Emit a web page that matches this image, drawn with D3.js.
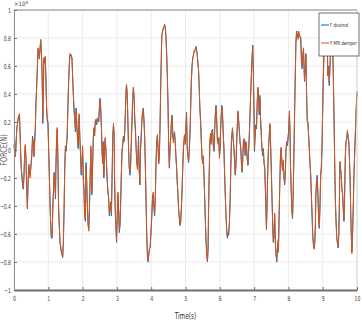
<!DOCTYPE html>
<html><head><meta charset="utf-8">
<script src="https://cdn.jsdelivr.net/npm/d3@7"></script>
<style>
body{margin:0;background:#fff}
svg{display:block}
text{font-family:"Liberation Sans Narrow","Arial Narrow","DejaVu Sans Condensed","Liberation Sans",sans-serif}
</style>
</head><body>
<svg id="chart" width="362" height="327"></svg>
<script>
// Force values are in units of 10^4 N
const time = [
0.00,0.02,0.04,0.06,0.08,0.12,0.16,0.17,0.19,0.21,0.25,0.27,0.29,0.31,0.33,0.35,0.37,0.39,0.41,0.43,0.47,0.49,0.52,0.54,0.56,0.58,0.62,0.64,0.66,0.68,0.70,0.72,0.74,0.76,0.78,0.80,0.82,0.84,0.86,0.87,0.89,0.91,0.93,0.95,0.97,0.99,1.01,1.03,1.05,1.07,1.09,1.11,1.13,1.15,1.17,1.19,1.21,1.22,1.24,1.26,1.28,1.30,1.34,1.38,1.42,1.44,1.46,1.48,1.50,1.52,1.54,1.55,1.57,1.59,1.61,1.63,
1.67,1.69,1.71,1.73,1.75,1.77,1.79,1.81,1.83,1.85,1.87,1.89,1.90,1.92,1.94,1.96,1.98,2.00,2.02,2.04,2.06,2.08,2.10,2.12,2.14,2.16,2.18,2.20,2.22,2.24,2.25,2.27,2.29,2.31,2.33,2.35,2.37,2.39,2.41,2.43,2.47,2.49,2.51,2.53,2.55,2.57,2.59,2.60,2.62,2.64,2.66,2.68,2.70,2.72,2.74,2.76,2.78,2.80,2.82,2.84,2.86,2.88,2.90,2.92,2.93,2.95,2.97,2.99,3.01,3.03,3.05,3.07,3.09,3.11,3.13,3.15,3.17,3.19,3.21,3.23,3.25,3.27,3.28,3.30,3.32,3.34,3.36,
3.38,3.40,3.42,3.44,3.46,3.48,3.50,3.52,3.54,3.56,3.58,3.60,3.62,3.63,3.65,3.67,3.69,3.71,3.73,3.75,3.77,3.79,3.81,3.83,3.85,3.87,3.89,3.91,3.93,3.95,3.97,3.98,4.00,4.02,4.04,4.06,4.08,4.10,4.12,4.14,4.16,4.18,4.20,4.22,4.24,4.26,4.28,4.30,4.31,4.33,4.35,4.37,4.39,4.41,4.43,4.45,4.47,4.49,4.51,4.53,4.55,4.57,4.59,4.61,4.63,4.65,4.66,4.68,4.70,4.72,4.74,4.76,4.78,4.80,4.82,4.84,4.86,4.88,4.90,4.92,4.94,4.96,4.97,4.99,5.01,5.03,
5.05,5.07,5.09,5.11,5.13,5.15,5.17,5.19,5.21,5.23,5.25,5.27,5.29,5.31,5.32,5.34,5.36,5.38,5.40,5.42,5.44,5.46,5.48,5.50,5.52,5.54,5.56,5.58,5.60,5.62,5.64,5.66,5.67,5.69,5.71,5.73,5.75,5.77,5.79,5.81,5.83,5.85,5.87,5.89,5.91,5.93,5.95,5.97,5.99,6.01,6.02,6.04,6.06,6.08,6.10,6.12,6.14,6.16,6.18,6.20,6.22,6.24,6.26,6.28,6.30,6.32,6.34,6.36,6.37,6.39,6.41,6.43,6.45,6.47,6.49,6.51,6.53,6.55,6.57,6.59,6.61,6.63,6.65,6.67,6.69,6.71,6.72,
6.74,6.76,6.78,6.80,6.82,6.84,6.86,6.88,6.90,6.92,6.94,6.96,6.98,7.00,7.01,7.03,7.05,7.07,7.09,7.11,7.13,7.15,7.17,7.19,7.21,7.23,7.25,7.27,7.29,7.31,7.33,7.35,7.36,7.38,7.40,7.42,7.44,7.46,7.48,7.50,7.52,7.54,7.56,7.58,7.60,7.62,7.64,7.66,7.68,7.70,7.71,7.73,7.75,7.77,7.79,7.81,7.83,7.85,7.87,7.89,7.91,7.93,7.95,7.97,7.99,8.01,8.03,8.05,8.06,8.08,8.10,8.12,8.14,8.16,8.18,8.20,8.22,8.24,8.26,8.28,8.30,8.32,
8.36,8.38,8.40,8.42,8.44,8.45,8.47,8.49,8.51,8.53,8.55,8.57,8.59,8.61,8.63,8.65,8.67,8.69,8.71,8.73,8.75,8.77,8.79,8.80,8.82,8.84,8.86,8.88,8.90,8.92,8.94,8.96,8.98,9.00,9.02,9.04,9.06,9.08,9.10,9.12,9.14,9.15,9.17,9.19,9.21,9.23,9.25,9.27,9.29,9.31,9.33,9.35,9.37,9.39,9.41,9.43,9.45,9.47,9.49,9.50,9.52,9.54,9.56,9.58,9.60,9.62,9.64,9.66,9.68,9.70,9.72,9.74,9.76,9.78,9.80,9.82,9.84,9.85,9.87,9.89,9.91,9.93,9.95,9.97,9.99,10.00
];
const forceDesired = [
0.01,0.07,-0.04,0.03,0.15,0.22,0.25,0.18,0.01,-0.13,-0.25,-0.28,-0.18,-0.04,0.03,-0.06,-0.28,-0.42,-0.23,-0.11,-0.18,-0.13,-0.04,0.10,0.06,-0.04,0.15,0.34,0.44,0.58,0.72,0.70,0.65,0.72,0.78,0.70,0.53,0.19,0.49,0.65,0.63,0.66,0.53,0.30,0.22,0.19,0.01,-0.18,-0.37,-0.54,-0.63,-0.63,-0.42,-0.30,-0.16,-0.25,-0.35,-0.13,0.06,0.15,-0.06,-0.42,-0.66,-0.73,-0.76,-0.66,-0.42,-0.13,0.03,-0.01,0.06,0.10,0.30,0.46,0.60,0.68,
0.68,0.65,0.53,0.39,0.30,0.22,0.13,0.30,0.18,0.10,0.01,0.18,0.25,0.10,-0.04,-0.18,-0.09,0.01,-0.18,-0.30,-0.47,-0.51,-0.09,-0.23,-0.42,-0.54,-0.56,-0.42,-0.18,0.01,-0.11,-0.32,-0.13,0.06,0.15,0.10,0.20,0.22,0.18,0.22,0.20,0.30,0.37,0.30,0.15,-0.04,-0.09,0.06,-0.20,0.01,0.08,-0.01,-0.11,-0.23,-0.30,-0.35,-0.47,-0.42,-0.37,-0.47,-0.18,0.10,0.18,0.10,-0.18,-0.42,-0.54,-0.66,-0.47,-0.32,-0.42,-0.59,-0.54,-0.37,-0.18,-0.01,0.03,0.10,0.06,0.13,0.30,0.44,0.46,0.41,0.20,0.01,-0.13,
-0.18,-0.11,0.06,0.20,0.37,0.44,0.39,0.22,0.15,0.01,-0.09,-0.13,-0.01,0.10,-0.13,-0.25,0.01,0.10,0.22,0.27,0.30,0.22,0.10,-0.11,-0.37,-0.61,-0.75,-0.80,-0.75,-0.70,-0.70,-0.66,-0.56,-0.47,-0.32,-0.32,-0.42,-0.47,-0.32,-0.09,0.06,0.10,0.01,-0.09,-0.04,0.20,0.49,0.72,0.82,0.84,0.87,0.88,0.89,0.88,0.82,0.70,0.53,0.34,0.01,-0.13,0.01,0.10,0.20,0.25,0.10,0.06,0.10,0.13,0.06,-0.04,-0.13,-0.23,-0.32,-0.42,-0.49,-0.54,-0.51,-0.42,-0.28,-0.13,0.01,0.08,0.10,0.06,0.15,0.27,
0.01,-0.04,-0.09,-0.01,0.10,0.30,0.49,0.60,0.65,0.68,0.70,0.71,0.72,0.74,0.72,0.68,0.63,0.58,0.44,0.30,0.22,0.06,-0.04,-0.09,-0.06,-0.18,-0.35,-0.51,-0.66,-0.75,-0.80,-0.70,-0.47,-0.18,0.06,0.10,0.06,0.13,0.15,0.03,-0.01,0.15,0.25,0.32,0.22,0.06,0.06,0.08,-0.04,0.01,0.13,0.25,0.32,0.25,0.13,0.01,-0.18,-0.32,-0.47,-0.56,-0.63,-0.59,-0.61,-0.51,-0.39,-0.13,0.06,0.13,0.15,0.08,0.01,-0.06,-0.18,-0.11,0.03,0.18,0.27,0.22,0.13,0.06,0.01,-0.09,-0.16,-0.06,0.06,0.08,0.06,
-0.04,0.06,0.01,-0.06,-0.11,-0.01,0.10,0.25,0.39,0.53,0.65,0.75,0.53,0.22,-0.01,0.10,0.18,0.15,0.34,0.44,0.37,0.25,0.39,0.22,0.10,0.01,-0.04,0.01,-0.09,-0.13,-0.28,-0.47,-0.56,-0.37,-0.13,0.01,0.10,0.18,0.06,-0.13,-0.32,-0.51,-0.66,-0.61,-0.47,-0.66,-0.75,-0.80,-0.70,-0.66,-0.73,-0.47,-0.23,-0.04,0.01,-0.09,-0.13,-0.09,-0.18,-0.25,-0.18,-0.01,0.06,0.03,0.08,0.15,0.27,0.10,-0.09,-0.28,-0.42,-0.49,-0.32,-0.04,0.25,0.53,0.77,0.85,0.82,0.80,0.84,0.82,
0.80,0.65,0.58,0.68,0.72,0.65,0.49,0.58,0.68,0.41,0.20,0.20,0.10,0.01,-0.09,-0.18,-0.32,-0.47,-0.61,-0.68,-0.70,-0.66,-0.51,-0.32,-0.23,-0.18,-0.32,-0.47,-0.56,-0.42,-0.18,-0.13,0.01,0.30,0.53,0.72,0.80,0.82,0.87,0.84,0.68,0.53,0.60,0.46,0.58,0.72,0.77,0.82,0.77,0.53,0.22,-0.09,-0.37,-0.51,-0.63,-0.66,-0.70,-0.61,-0.32,-0.09,-0.13,-0.18,-0.28,-0.32,-0.42,-0.51,-0.32,-0.04,0.06,0.08,0.13,0.10,0.06,-0.06,-0.23,-0.47,-0.66,-0.73,-0.61,-0.42,-0.18,-0.04,0.10,0.25,0.37,0.41
];
const forceMR = [
0.03,0.05,-0.05,0.05,0.14,0.23,0.26,0.16,0.02,-0.12,-0.24,-0.27,-0.2,-0.03,0.04,-0.08,-0.27,-0.41,-0.25,-0.1,-0.2,-0.12,-0.02,0.08,0.07,-0.05,0.13,0.33,0.45,0.57,0.73,0.69,0.66,0.74,0.79,0.68,0.52,0.22,0.47,0.66,0.62,0.67,0.5,0.31,0.21,0.2,0.0,-0.17,-0.38,-0.53,-0.62,-0.62,-0.44,-0.29,-0.17,-0.23,-0.33,-0.15,0.05,0.16,-0.05,-0.4,-0.65,-0.72,-0.77,-0.64,-0.43,-0.12,0.02,0.0,0.07,0.11,0.28,0.47,0.6,0.69,
0.67,0.66,0.51,0.4,0.28,0.23,0.15,0.28,0.2,0.08,0.03,0.17,0.26,0.08,-0.02,-0.16,-0.1,0.03,-0.2,-0.28,-0.45,-0.5,-0.12,-0.22,-0.4,-0.52,-0.58,-0.4,-0.2,0.03,-0.1,-0.3,-0.15,0.08,0.16,0.11,0.21,0.2,0.19,0.23,0.21,0.31,0.36,0.28,0.16,-0.02,-0.1,0.04,-0.18,0.03,0.09,0.0,-0.12,-0.22,-0.31,-0.34,-0.45,-0.43,-0.38,-0.45,-0.2,0.08,0.19,0.12,-0.16,-0.4,-0.55,-0.64,-0.48,-0.3,-0.43,-0.57,-0.53,-0.38,-0.16,0.0,0.05,0.09,0.07,0.14,0.28,0.43,0.47,0.4,0.22,0.02,-0.12,
-0.16,-0.12,0.05,0.21,0.36,0.45,0.38,0.23,0.13,0.02,-0.08,-0.14,0.0,0.08,-0.15,-0.24,0.02,0.12,0.21,0.28,0.29,0.2,0.08,-0.12,-0.36,-0.6,-0.76,-0.79,-0.74,-0.71,-0.69,-0.64,-0.55,-0.45,-0.34,-0.3,-0.4,-0.45,-0.35,-0.1,0.04,0.11,0.03,-0.1,-0.02,0.21,0.48,0.73,0.81,0.85,0.86,0.88,0.9,0.87,0.8,0.69,0.54,0.32,0.03,-0.12,0.03,0.08,0.21,0.24,0.12,0.05,0.11,0.12,0.07,-0.05,-0.12,-0.24,-0.31,-0.43,-0.48,-0.53,-0.52,-0.4,-0.29,-0.12,0.02,0.07,0.11,0.04,0.16,0.26,
0.03,-0.05,-0.08,0.01,0.11,0.29,0.5,0.59,0.66,0.67,0.71,0.7,0.73,0.73,0.71,0.69,0.62,0.57,0.45,0.28,0.2,0.08,-0.05,-0.1,-0.04,-0.2,-0.34,-0.52,-0.65,-0.76,-0.79,-0.68,-0.45,-0.2,0.05,0.12,0.04,0.14,0.13,0.05,0.0,0.13,0.26,0.31,0.2,0.08,0.04,0.09,-0.06,0.02,0.12,0.23,0.31,0.26,0.11,0.02,-0.16,-0.33,-0.46,-0.57,-0.62,-0.6,-0.59,-0.52,-0.37,-0.14,0.08,0.12,0.16,0.07,0.02,-0.08,-0.17,-0.12,0.05,0.17,0.28,0.2,0.14,0.05,0.03,-0.1,-0.15,-0.07,0.07,0.07,0.08,
-0.02,0.05,0.03,-0.07,-0.1,0.0,0.11,0.24,0.4,0.52,0.66,0.74,0.55,0.2,0.01,0.12,0.16,0.17,0.33,0.45,0.36,0.27,0.37,0.21,0.12,0.0,-0.02,0.0,-0.1,-0.12,-0.3,-0.46,-0.57,-0.35,-0.12,0.03,0.09,0.19,0.04,-0.12,-0.33,-0.5,-0.65,-0.62,-0.45,-0.67,-0.74,-0.79,-0.71,-0.64,-0.72,-0.45,-0.24,-0.02,0.02,-0.1,-0.15,-0.07,-0.2,-0.24,-0.16,0.0,0.05,0.04,0.09,0.14,0.28,0.08,-0.1,-0.27,-0.43,-0.48,-0.3,-0.05,0.26,0.52,0.78,0.84,0.83,0.79,0.85,0.81,
0.81,0.63,0.6,0.67,0.73,0.63,0.5,0.57,0.69,0.39,0.22,0.18,0.11,0.0,-0.1,-0.17,-0.33,-0.46,-0.62,-0.67,-0.71,-0.65,-0.5,-0.33,-0.22,-0.2,-0.31,-0.48,-0.55,-0.4,-0.2,-0.12,0.03,0.29,0.54,0.71,0.81,0.83,0.86,0.85,0.66,0.54,0.59,0.48,0.57,0.73,0.76,0.83,0.76,0.51,0.23,-0.1,-0.36,-0.52,-0.62,-0.67,-0.69,-0.6,-0.33,-0.08,-0.14,-0.17,-0.29,-0.31,-0.43,-0.5,-0.3,-0.05,0.07,0.07,0.14,0.09,0.07,-0.07,-0.22,-0.48,-0.65,-0.74,-0.6,-0.41,-0.19,-0.03,0.11,0.24,0.38,0.42
];
const seriesNames = ["F desired", "F MR damper"];
const seriesColors = ["#0072BD", "#D95319"];
const xTicks = [0,1,2,3,4,5,6,7,8,9,10];
const yTicks = [-1,-0.8,-0.6,-0.4,-0.2,0,0.2,0.4,0.6,0.8,1];
const xLabel = "Time(s)";
const yLabel = "FORCE(N)";

const W = 362, H = 327;
const m = {l:14, r:5, t:10, b:37};
const svg = d3.select("#chart");
const x = d3.scaleLinear().domain([0,10]).range([m.l, W - m.r]);
const y = d3.scaleLinear().domain([-1,1]).range([H - m.b, m.t]);

// squeeze a text horizontally to mimic a narrow typeface
function narrow(sel, f) {
  sel.each(function() {
    const w = this.getComputedTextLength();
    if (w > 0) d3.select(this).attr("textLength", w * f).attr("lengthAdjust", "spacingAndGlyphs");
  });
}

// grid
const grid = svg.append("g");
grid.selectAll("line.v").data(xTicks).join("line")
  .attr("x1", d => x(d)).attr("x2", d => x(d)).attr("y1", y(-1)).attr("y2", y(1))
  .attr("stroke", "#e6e6e6").attr("stroke-width", 0.8);
grid.selectAll("line.h").data(yTicks).join("line")
  .attr("x1", x(0)).attr("x2", x(10)).attr("y1", d => y(d)).attr("y2", d => y(d))
  .attr("stroke", "#e6e6e6").attr("stroke-width", 0.8);

// y label (drawn behind the tick labels, as in the reference)
const yl = svg.append("text").attr("transform", `translate(6.5,150) rotate(-90)`).attr("text-anchor", "middle")
  .attr("fill", "#606060").style("font-size", "8px").text(yLabel);
narrow(yl, 0.9);

// series
const n = Math.min(time.length, forceDesired.length, forceMR.length);
const idx = d3.range(n);
const series = [forceDesired, forceMR];
series.forEach((vals, k) => {
  const line = d3.line().x(i => x(time[i])).y(i => y(vals[i]));
  svg.append("path").datum(idx).attr("d", line)
    .attr("fill", "none").attr("stroke", seriesColors[k])
    .attr("stroke-width", 1).attr("stroke-linejoin", "round");
});

// box
svg.append("line").attr("x1", x(0)).attr("x2", x(10)).attr("y1", y(1)).attr("y2", y(1))
  .attr("stroke", "#8a8a8a").attr("stroke-width", 1);
svg.append("line").attr("x1", x(10)).attr("x2", x(10)).attr("y1", y(1)).attr("y2", y(-1))
  .attr("stroke", "#d0d0d0").attr("stroke-width", 0.8);

// axes
const fmt = d => d3.format("~g")(d);
const gx = svg.append("g").attr("transform", `translate(0,${y(-1)})`)
  .call(d3.axisBottom(x).tickValues(xTicks).tickFormat(fmt).tickSizeInner(-3).tickSizeOuter(0).tickPadding(6));
const gy = svg.append("g").attr("transform", `translate(${x(0)},0)`)
  .call(d3.axisLeft(y).tickValues(yTicks).tickFormat(fmt).tickSizeInner(-3).tickSizeOuter(0).tickPadding(3));
gx.select(".domain").attr("stroke", "#707070").attr("stroke-width", 1.8);
gy.select(".domain").attr("stroke", "#909090").attr("stroke-width", 1);
[gx, gy].forEach(g => {
  g.selectAll(".tick line").attr("stroke", "#707070");
  g.selectAll(".tick text").attr("fill", "#404040").style("font-size", "7px");
  narrow(g.selectAll(".tick text"), 0.72);
});

// exponent
const ex = svg.append("text").attr("x", x(0)).attr("y", 6).attr("fill", "#404040").style("font-size", "6px");
ex.append("tspan").text("\u00d710");
ex.append("tspan").attr("dy", -2).style("font-size", "4.5px").text("4");

// x label
const xl = svg.append("text").attr("x", (x(0)+x(10))/2).attr("y", 319).attr("text-anchor", "middle")
  .attr("fill", "#303030").style("font-size", "8px").text(xLabel);
narrow(xl, 0.8);

// legend
const lg = svg.append("g");
lg.append("rect").attr("x", 319).attr("y", 13).attr("width", 40).attr("height", 43)
  .attr("fill", "#fff").attr("stroke", "#333").attr("stroke-width", 0.7);
seriesNames.forEach((name, k) => {
  const yy = 25 + k * 18;
  lg.append("line").attr("x1", 321).attr("x2", 329).attr("y1", yy).attr("y2", yy)
    .attr("stroke", seriesColors[k]).attr("stroke-width", 1);
  const t = lg.append("text").attr("x", 330).attr("y", yy + 2).attr("fill", "#303030")
    .style("font-size", "5.5px").text(name);
  t.attr("textLength", k === 0 ? 18 : 27).attr("lengthAdjust", "spacingAndGlyphs");
});
</script>
</body></html>
